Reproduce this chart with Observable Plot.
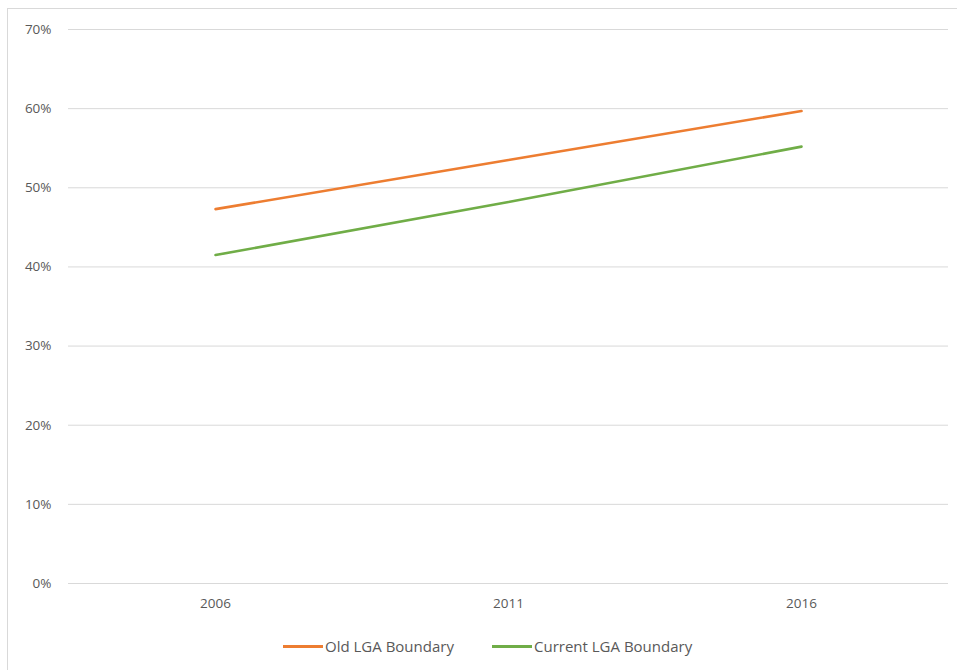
<!DOCTYPE html>
<html>
<head>
<meta charset="utf-8">
<script src="https://cdn.jsdelivr.net/npm/d3@7"></script>
<script src="https://cdn.jsdelivr.net/npm/@observablehq/plot@0.6"></script>
<style>
  html, body { margin: 0; padding: 0; background: #fff; }
  #wrap { position: relative; width: 957px; height: 670px; overflow: hidden; background: #fff;
          font-family: "Open Sans", sans-serif; }
  #frame { position: absolute; left: 7px; top: 8px; width: 960px; height: 680px;
           border: 1px solid #d9d9d9; box-sizing: border-box; }
  #chart { position: absolute; left: 0; top: 0; }
  #legend { position: absolute; top: 636px; left: 0; width: 957px; height: 20px;
            font-size: 15px; color: #595959; }
  .item { position: absolute; top: 0; display: flex; align-items: center; height: 20px; }
  .swatch { width: 40px; height: 3px; margin-right: 2px; }
</style>
</head>
<body>
<div id="wrap">
  <div id="frame"></div>
  <div id="chart"></div>
  <div id="legend"></div>
</div>
<script>
// Census years and share of population for each boundary definition
const years = ["2006", "2011", "2016"];
const oldBoundary = [0.473, 0.535, 0.597];
const currentBoundary = [0.415, 0.482, 0.552];
const seriesNames = ["Old LGA Boundary", "Current LGA Boundary"];
const seriesColors = ["#ED7D31", "#70AD47"];
const yTicks = [0, 0.1, 0.2, 0.3, 0.4, 0.5, 0.6, 0.7];

const rows = [
  ...years.map((year, i) => ({year, value: oldBoundary[i], series: seriesNames[0]})),
  ...years.map((year, i) => ({year, value: currentBoundary[i], series: seriesNames[1]}))
];

const chart = Plot.plot({
  width: 957,
  height: 630,
  marginLeft: 68,
  marginRight: 9,
  marginTop: 29,
  marginBottom: 47,
  style: {fontFamily: "'Open Sans', sans-serif", fontSize: "13.5px", color: "#595959", background: "transparent"},
  x: {type: "point", domain: years, padding: 0.5, label: null},
  y: {domain: [0, 0.7], label: null},
  color: {domain: seriesNames, range: seriesColors},
  marks: [
    Plot.ruleY(yTicks, {stroke: "#d9d9d9", strokeWidth: 1}),
    Plot.axisY(yTicks, {tickSize: 0, tickPadding: 17, tickFormat: d => Math.round(d * 100) + "%", fill: "#595959", label: null}),
    Plot.axisX({tickSize: 0, tickPadding: 15, fill: "#595959", label: null}),
    Plot.line(rows, {x: "year", y: "value", z: "series", stroke: "series", strokeWidth: 2.6, strokeLinecap: "round"})
  ]
});
document.getElementById("chart").appendChild(chart);

// Legend below the plot
const legend = document.getElementById("legend");
const positions = [283, 492];
seriesNames.forEach((name, i) => {
  const item = document.createElement("div");
  item.className = "item";
  item.style.left = positions[i] + "px";
  const sw = document.createElement("div");
  sw.className = "swatch";
  sw.style.background = seriesColors[i];
  const label = document.createElement("span");
  label.textContent = name;
  item.appendChild(sw);
  item.appendChild(label);
  legend.appendChild(item);
});
</script>
</body>
</html>
